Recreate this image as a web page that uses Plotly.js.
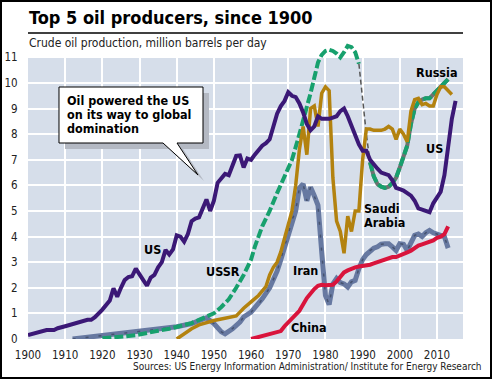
<!DOCTYPE html>
<html><head><meta charset="utf-8">
<script src="https://cdn.plot.ly/plotly-3.0.1.min.js"></script>
<style>html,body{margin:0;padding:0;background:#fff}#chart{width:492px;height:379px}</style>
</head><body><div id="chart"></div>
<script>
// ---- data (million barrels per day) ----
const usYears = [1900,1902,1904,1905,1907,1908,1910,1912,1914,1916,1917,1918,1920,1921,1922,1923,1924,1925,1926,1927,1928,1929,1930,1931,1932,1933,1934,1935,1936,1937,1938,1939,1940,1941,1942,1943,1944,1945,1946,1947,1948,1949,1950,1951,1952,1953,1954,1955,1956,1957,1958,1959,1960,1961,1962,1963,1964,1965,1966,1967,1968,1969,1970,1971,1972,1973,1974,1975,1976,1977,1978,1979,1980,1981,1982,1983,1984,1985,1986,1987,1988,1989,1990,1991,1992,1993,1994,1995,1996,1997,1998,1999,2000,2001,2002,2003,2004,2005,2006,2007,2008,2009,2010,2011,2012,2013,2014,2015];
const usValues = [0.15,0.22,0.32,0.35,0.35,0.42,0.5,0.58,0.68,0.75,0.75,0.85,1.15,1.3,1.5,1.98,1.65,2.0,2.3,2.42,2.45,2.75,2.5,2.3,2.08,2.4,2.5,2.8,3.0,3.48,3.3,3.5,4.05,4.0,3.8,4.1,4.6,4.7,4.75,5.1,5.45,5.0,5.4,6.1,6.25,6.45,6.4,6.75,7.15,7.17,6.7,7.05,7.0,7.2,7.4,7.55,7.65,7.8,8.3,8.8,9.1,9.3,9.64,9.5,9.45,9.2,8.85,8.4,8.15,8.3,8.7,8.6,8.6,8.6,8.65,8.7,8.9,9.0,8.7,8.35,7.9,7.6,7.35,7.35,7.0,6.8,6.65,6.5,6.45,6.4,6.2,5.9,5.85,5.8,5.7,5.6,5.4,5.1,5.05,5.0,4.95,5.3,5.5,5.75,6.4,7.4,8.6,9.3];

const ussrYears = [1920,1923,1926,1929,1932,1935,1938,1941,1944,1946,1948,1950,1952,1954,1956,1958,1960,1961,1963,1965,1967,1969,1971,1973,1975,1976,1977,1978,1979,1980,1981,1982,1983,1984,1985,1986,1987,1988,1989];
const ussrValues = [0.03,0.05,0.1,0.15,0.25,0.32,0.4,0.5,0.62,0.75,0.88,1.0,1.25,1.55,2.0,2.5,3.1,3.6,4.4,5.0,5.7,6.35,7.0,8.0,9.0,9.6,10.2,10.8,11.1,11.25,11.3,11.25,11.15,11.0,11.2,11.45,11.4,11.2,10.75];

const breakYears = [1989,1990,1991,1992];
const breakValues = [10.75,9.3,8.0,6.9];

const russiaYears = [1992,1993,1994,1995,1996,1997,1998,1999,2000,2001,2002,2003,2004,2005,2006,2007,2008,2009,2010,2011,2012,2013];
const russiaValues = [6.9,6.35,6.05,5.95,5.9,5.95,6.1,6.3,6.7,7.1,7.55,8.4,9.0,9.25,9.35,9.4,9.4,9.55,9.7,9.85,10.0,10.15];

const saudiYears = [1940,1942,1944,1946,1948,1950,1952,1954,1956,1957,1958,1960,1962,1964,1965,1966,1967,1968,1969,1970,1971,1972,1973,1974,1975,1976,1977,1978,1979,1980,1981,1982,1983,1984,1985,1986,1987,1988,1989,1990,1991,1992,1993,1994,1995,1996,1997,1998,1999,2000,2001,2002,2003,2004,2005,2006,2007,2008,2009,2010,2011,2012,2013,2014];
const saudiValues = [0.0,0.2,0.4,0.55,0.65,0.72,0.78,0.83,0.9,1.05,1.2,1.45,1.7,2.05,2.5,2.8,3.0,3.4,3.9,4.4,5.0,6.0,7.4,8.3,7.2,9.0,9.1,8.3,9.6,9.85,9.7,6.3,4.6,4.2,3.35,4.8,4.2,5.0,5.0,7.0,8.2,8.2,8.15,8.15,8.15,8.2,8.3,8.2,7.8,8.2,8.0,7.7,8.9,9.35,9.4,9.15,9.2,9.1,9.1,9.55,9.85,9.85,9.7,9.55];

const iranYears = [1912,1915,1920,1925,1930,1935,1940,1944,1946,1948,1950,1951,1952,1953,1954,1955,1957,1958,1960,1962,1963,1965,1967,1968,1969,1970,1971,1972,1973,1974,1975,1976,1977,1978,1979,1980,1981,1982,1983,1984,1985,1986,1987,1988,1989,1990,1991,1992,1993,1994,1995,1996,1997,1998,1999,2000,2001,2002,2003,2004,2005,2006,2007,2008,2009,2010,2011,2012,2013];
const iranValues = [0.0,0.05,0.12,0.2,0.3,0.38,0.48,0.6,0.72,0.83,0.6,0.4,0.28,0.2,0.28,0.4,0.66,0.86,1.05,1.35,1.57,2.0,2.65,3.1,3.6,4.1,4.65,5.0,5.9,6.05,5.4,5.93,5.6,5.22,3.4,1.7,1.35,2.15,2.36,2.2,2.15,2.03,2.23,2.29,2.75,3.1,3.3,3.45,3.55,3.6,3.7,3.72,3.72,3.6,3.46,3.72,3.7,3.46,3.75,4.05,4.1,4.0,4.15,4.24,4.15,4.1,4.05,4.0,3.55];

const chinaYears = [1960,1962,1964,1966,1968,1969,1971,1973,1975,1976,1977,1978,1979,1980,1981,1982,1983,1984,1985,1986,1987,1988,1989,1990,1991,1992,1993,1994,1995,1996,1997,1998,1999,2000,2001,2002,2003,2004,2005,2006,2007,2008,2009,2010,2011,2012,2013];
const chinaValues = [0.0,0.08,0.18,0.27,0.31,0.5,0.8,1.1,1.6,1.8,1.95,2.08,2.12,2.1,2.1,2.12,2.25,2.45,2.6,2.68,2.75,2.8,2.83,2.85,2.87,2.9,2.95,3.0,3.05,3.13,3.18,3.2,3.2,3.25,3.3,3.38,3.45,3.55,3.65,3.7,3.75,3.8,3.85,3.95,4.0,4.1,4.4];

const xTickVals = [1900,1910,1920,1930,1940,1950,1960,1970,1980,1990,2000,2010];
const yTickVals = [0,1,2,3,4,5,6,7,8,9,10,11];

// ---- layout helpers (pixel -> paper) ----
const W = 492, H = 379, ML = 28, MR = 29, MT = 42, MB = 40;
const PW = W - ML - MR, PH = H - MT - MB;
const PX = x => (x - ML) / PW;
const PY = y => (H - MB - y) / PH;
const FONT = '"DejaVu Sans Condensed", "Liberation Sans Narrow", sans-serif';

const C = {us:'#3b1876', green:'#17a06d', gold:'#b3820f', iran:'#6779a1', china:'#d9143c'};

const traces = [
  {x: iranYears, y: iranValues, mode:'lines', line:{color:C.iran, width:5}, hoverinfo:'skip'},
  {x: iranYears, y: iranValues, mode:'lines', line:{color:'#46536f', width:1.5, dash:'3px,10px'}, hoverinfo:'skip'},
  {x: chinaYears, y: chinaValues, mode:'lines', line:{color:C.china, width:4}, hoverinfo:'skip'},
  {x: ussrYears, y: ussrValues, mode:'lines', line:{color:C.green, width:4, dash:'9px,3px'}, hoverinfo:'skip'},
  {x: breakYears, y: breakValues, mode:'lines', line:{color:'#555', width:1.5, dash:'5px,3px'}, hoverinfo:'skip'},
  {x: russiaYears, y: russiaValues, mode:'lines', line:{color:'#6d7272', width:4}, hoverinfo:'skip'},
  {x: russiaYears, y: russiaValues, mode:'lines', line:{color:C.green, width:4, dash:'9px,3px'}, hoverinfo:'skip'},
  {x: saudiYears, y: saudiValues, mode:'lines', line:{color:C.gold, width:3.5}, hoverinfo:'skip'},
  {x: usYears, y: usValues, mode:'lines', line:{color:C.us, width:4}, hoverinfo:'skip'}
];

function pathFrom(pts, dx, dy){
  return pts.map((p,i)=> (i?'L':'M') + PX(p[0]+dx).toFixed(5) + ',' + PY(p[1]+dy).toFixed(5)).join(' ') + ' Z';
}
const callout = [[59,87],[203,87],[203,143],[177,143],[198,175],[163,143],[59,143]];

const shapes = [
  {type:'rect', layer:'below', xref:'x', yref:'y', x0:1900, x1:2017, y0:0, y1:11, fillcolor:'#d6deea', line:{width:0}},
  {type:'line', xref:'paper', yref:'paper', x0:PX(28), x1:PX(463), y0:PY(33), y1:PY(33), line:{color:'#000', width:1.5}},
  {type:'rect', xref:'paper', yref:'paper', x0:PX(1), x1:PX(491), y0:PY(1), y1:PY(378), line:{color:'#000', width:2}},
  {type:'path', xref:'paper', yref:'paper', path:pathFrom(callout,6,6), fillcolor:'#b4b9c3', line:{width:0}},
  {type:'path', xref:'paper', yref:'paper', path:pathFrom(callout,0,0), fillcolor:'#ffffff', line:{color:'#000', width:1}}
];

function ann(text, x, y, opts){
  return Object.assign({text, xref:'paper', yref:'paper', x:PX(x), y:PY(y), showarrow:false,
    xanchor:'center', yanchor:'middle', font:{family:FONT, size:12.5, color:'#000'}}, opts||{});
}
const annotations = [
  ann('<b>Top 5 oil producers, since 1900</b>', 27, 18, {xanchor:'left', font:{family:FONT, size:18, color:'#000'}}),
  ann('Crude oil production, million barrels per day', 27, 43, {xanchor:'left', font:{family:FONT, size:12, color:'#222'}}),
  ann('Sources: US Energy Information Administration/ Institute for Energy Research', 484, 366, {xanchor:'right', font:{family:FONT, size:10, color:'#222'}}),
  ann('<b>Oil powered the US</b>', 65, 100, {xanchor:'left'}),
  ann('<b>on its way to global</b>', 65, 114, {xanchor:'left'}),
  ann('<b>domination</b>', 65, 128, {xanchor:'left'}),
  ann('<b>US</b>', 152, 250),
  ann('<b>USSR</b>', 223, 271),
  ann('<b>Iran</b>', 305, 270),
  ann('<b>China</b>', 309, 327),
  ann('<b>Saudi</b>', 362, 208, {xanchor:'left'}),
  ann('<b>Arabia</b>', 362, 222, {xanchor:'left'}),
  ann('<b>Russia</b>', 437, 72),
  ann('<b>US</b>', 434, 148)
];

const layout = {
  width: W, height: H,
  margin: {l:ML, r:MR, t:MT, b:MB, pad:0},
  paper_bgcolor:'#fff', plot_bgcolor:'#fff',
  showlegend:false,
  font:{family:FONT, size:11, color:'#222'},
  xaxis:{range:[1900,2017], tickvals:xTickVals, ticktext:xTickVals.map(String), showgrid:true, gridcolor:'#fff', gridwidth:2,
         zeroline:false, showline:false, ticks:'outside', ticklen:5, tickcolor:'rgba(0,0,0,0)',
         tickfont:{family:FONT, size:11.5, color:'#222'}, fixedrange:true},
  yaxis:{range:[0,11.6], tickvals:yTickVals, ticktext:yTickVals.map(String), showgrid:true, gridcolor:'#fff', gridwidth:2,
         zeroline:false, showline:false, ticks:'outside', ticklen:7, tickcolor:'rgba(0,0,0,0)',
         tickfont:{family:FONT, size:11.5, color:'#222'}, fixedrange:true},
  shapes, annotations
};

Plotly.newPlot('chart', traces, layout, {staticPlot:true, displayModeBar:false});
</script></body></html>
